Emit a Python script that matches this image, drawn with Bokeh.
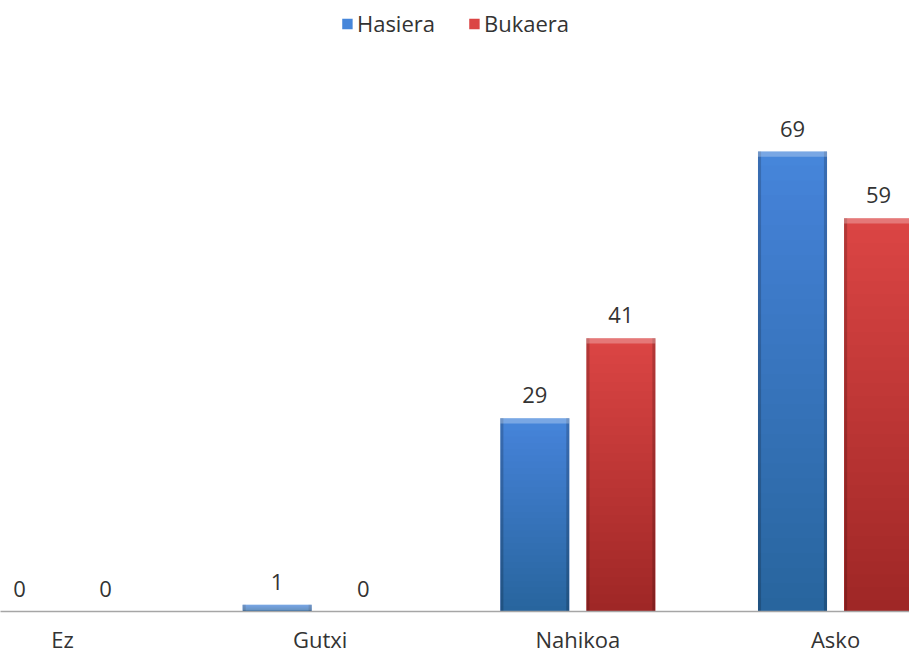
import numpy as np
from bokeh.plotting import figure
from bokeh.models import ColumnDataSource, Range1d, Legend, LegendItem, FixedTicker
from bokeh.core.properties import value
from bokeh.embed import file_html
from bokeh.resources import INLINE

# ---- data ----
categories = ["Ez", "Gutxi", "Nahikoa", "Asko"]
series_names = ["Hasiera", "Bukaera"]
hasiera = [0, 1, 29, 69]
bukaera = [0, 0, 41, 59]

FONT = "Open Sans"
TEXT_COLOR = "#333333"
BAR_W = 0.268
OFFSET = 0.167
colors = ["#4686DA", "#DB4544"]

xs = np.arange(len(categories), dtype=float)

p = figure(width=909, height=656, output_backend="svg", toolbar_location=None,
           x_range=Range1d(-0.2406, 3.287), y_range=Range1d(0, 91.65),
           min_border_left=0, min_border_right=0, min_border_top=0,
           min_border_bottom=45)
p.outline_line_color = None
p.xgrid.visible = False
p.ygrid.visible = False
p.yaxis.visible = False
p.background_fill_color = "white"
p.border_fill_color = "white"

renderers = []
for name, vals, d, c in zip(series_names, [hasiera, bukaera], [-OFFSET, OFFSET], colors):
    v = np.array(vals, dtype=float)
    bx = xs + d
    src = ColumnDataSource(dict(x=bx, top=v))
    r = p.vbar(x="x", top="top", width=BAR_W, fill_color=c, line_color=None, source=src)
    renderers.append(r)
    # vertical shading (darker toward the bottom)
    for f in np.linspace(0.97, 0.03, 30):
        p.vbar(x=bx, top=v * f, width=BAR_W, fill_color="black", fill_alpha=0.008,
               line_color=None)
    # darker side edges
    edge = 0.012
    for s in (-1, 1):
        p.vbar(x=bx + s * (BAR_W / 2 - edge / 2), top=v, width=edge,
               fill_color="black", fill_alpha=0.18, line_color=None)
    # lighter top bevel
    p.vbar(x=bx, top=v, bottom=np.maximum(v - 0.8, 0), width=BAR_W,
           fill_color="white", fill_alpha=0.28, line_color=None)
    # value labels
    p.text(x=bx, y=v, text=[str(int(t)) for t in vals], text_align="center",
           text_baseline="bottom", y_offset=-15, text_font=value(FONT),
           text_font_size="22px", text_color=TEXT_COLOR)

legend = Legend(items=[LegendItem(label=n, renderers=[r]) for n, r in zip(series_names, renderers)],
                location="top_center", orientation="horizontal")
legend.glyph_width = 13
legend.glyph_height = 13
legend.label_text_font = FONT
legend.label_text_font_size = "22px"
legend.label_text_color = TEXT_COLOR
legend.label_standoff = 4
legend.spacing = 32
legend.padding = 12
legend.margin = 8
legend.border_line_color = None
legend.background_fill_alpha = 0
p.add_layout(legend)

ax = p.xaxis[0]
ax.ticker = FixedTicker(ticks=list(xs))
ax.major_label_overrides = {int(i): c for i, c in enumerate(categories)}
ax.major_tick_line_color = None
ax.minor_tick_line_color = None
ax.major_tick_out = 0
ax.major_label_standoff = 12
ax.axis_line_color = "#A6A6A6"
ax.axis_line_width = 1.5
ax.major_label_text_font = FONT
ax.major_label_text_font_size = "22px"
ax.major_label_text_color = TEXT_COLOR

open("out.html", "w").write(file_html(p, INLINE))
